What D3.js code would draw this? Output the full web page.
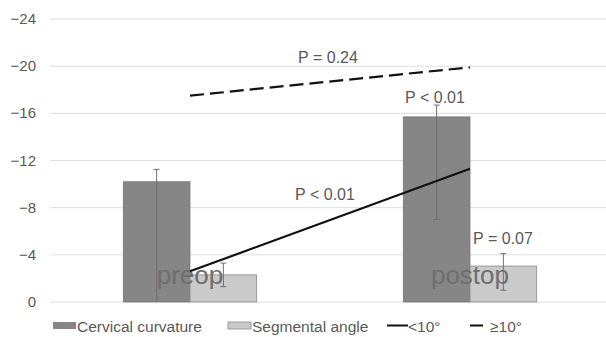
<!DOCTYPE html>
<html>
<head>
  <meta charset="utf-8">
  <script src="https://d3js.org/d3.v7.min.js"></script>
  <style>
    body { margin: 0; background: #fff; }
    text { font-family: "Liberation Sans", Arial, sans-serif; fill: #595959; }
  </style>
</head>
<body>
  <svg id="chart" width="606" height="337"></svg>
  <script>
    // data (angles in degrees, axis is reversed: negative up)
    const categories = ["preop", "postop"];
    const series = ["Cervical curvature", "Segmental angle"];
    const cervical = [10.2, 15.7];
    const cervicalErr = [[0, 11.25], [7.0, 16.7]];
    const segmental = [2.3, 3.05];
    const segmentalErr = [[1.3, 3.3], [1.0, 4.1]];
    const lessThan10 = [2.6, 11.3];
    const atLeast10 = [17.5, 19.9];
    const yTicks = [0, 4, 8, 12, 16, 20, 24];
    const pLabels = [
      { text: "P = 0.24", cat: 0.5, value: 20.3, dx: -2 },
      { text: "P < 0.01", cat: 1, value: 16.9, dx: -35 },
      { text: "P < 0.01", cat: 0.5, value: 8.65, dx: -5 },
      { text: "P = 0.07", cat: 1, value: 4.92, dx: 33 }
    ];

    const svg = d3.select("#chart");
    const x = d3.scaleBand().domain(categories).range([50, 610]);
    const y = d3.scaleLinear().domain([0, 24]).range([302, 19]);
    const xc = i => x(categories[0]) + x.bandwidth() * (i + 0.5);
    const barW = 66.7;

    // grid + tick labels
    svg.append("g").selectAll("line").data(yTicks).join("line")
      .attr("x1", 50).attr("x2", 606)
      .attr("y1", d => y(d)).attr("y2", d => y(d))
      .attr("stroke", "#dedede").attr("stroke-width", 1);
    svg.append("g").selectAll("text").data(yTicks).join("text")
      .attr("x", 36).attr("y", d => y(d) + 5)
      .attr("text-anchor", "end").attr("font-size", 15)
      .text(d => d === 0 ? "0" : "\u2212" + d);

    // bars
    const bars = [
      { vals: cervical, err: cervicalErr, off: -barW, fill: "#868686", stroke: "#7a7a7a" },
      { vals: segmental, err: segmentalErr, off: 0, fill: "#cacaca", stroke: "#8a8a8a" }
    ];
    bars.forEach(s => {
      svg.append("g").selectAll("rect").data(s.vals).join("rect")
        .attr("x", (d, i) => xc(i) + s.off)
        .attr("y", d => y(d))
        .attr("width", barW)
        .attr("height", d => y(0) - y(d))
        .attr("fill", s.fill).attr("stroke", s.stroke).attr("stroke-width", 0.8);
      const eg = svg.append("g").attr("stroke", "#6e6e6e").attr("stroke-width", 1);
      s.err.forEach((e, i) => {
        const cx = xc(i) + s.off + barW / 2;
        eg.append("line").attr("x1", cx).attr("x2", cx).attr("y1", y(e[0])).attr("y2", y(e[1]));
        eg.append("line").attr("x1", cx - 3).attr("x2", cx + 3).attr("y1", y(e[1])).attr("y2", y(e[1]));
        if (e[0] > 0) eg.append("line").attr("x1", cx - 3).attr("x2", cx + 3).attr("y1", y(e[0])).attr("y2", y(e[0]));
      });
    });

    // category labels sit inside the plot
    svg.append("g").selectAll("text").data(categories).join("text")
      .attr("x", (d, i) => xc(i)).attr("y", 284)
      .attr("text-anchor", "middle").attr("font-size", 26)
      .style("fill", "#6e6e6e")
      .text(d => d);

    // lines
    const line = d3.line().x((d, i) => xc(i)).y(d => y(d));
    svg.append("path").attr("d", line(lessThan10))
      .attr("fill", "none").attr("stroke", "#111").attr("stroke-width", 2.2);
    svg.append("path").attr("d", line(atLeast10))
      .attr("fill", "none").attr("stroke", "#111").attr("stroke-width", 2.2)
      .attr("stroke-dasharray", "14,6");

    // p values
    svg.append("g").selectAll("text").data(pLabels).join("text")
      .attr("x", d => xc(0) + (xc(1) - xc(0)) * d.cat + d.dx)
      .attr("y", d => y(d.value))
      .attr("text-anchor", "middle").attr("font-size", 16)
      .text(d => d.text);

    // legend
    const lg = svg.append("g").attr("transform", "translate(0,325.5)");
    lg.append("rect").attr("x", 53).attr("y", -3.5).attr("width", 23).attr("height", 7).attr("fill", "#868686");
    lg.append("text").attr("x", 77).attr("y", 6).attr("font-size", 15.5).text(series[0]);
    lg.append("rect").attr("x", 228).attr("y", -3.5).attr("width", 23).attr("height", 7)
      .attr("fill", "#cacaca").attr("stroke", "#8a8a8a").attr("stroke-width", 0.8);
    lg.append("text").attr("x", 252).attr("y", 6).attr("font-size", 15.5).text(series[1]);
    lg.append("line").attr("x1", 387).attr("x2", 408).attr("y1", 0).attr("y2", 0)
      .attr("stroke", "#111").attr("stroke-width", 2);
    lg.append("text").attr("x", 408).attr("y", 6).attr("font-size", 15.5).text("<10\u00b0");
    lg.append("line").attr("x1", 470).attr("x2", 483).attr("y1", 0).attr("y2", 0)
      .attr("stroke", "#111").attr("stroke-width", 2);
    lg.append("text").attr("x", 490).attr("y", 6).attr("font-size", 15.5).text("\u226510\u00b0");
  </script>
</body>
</html>
